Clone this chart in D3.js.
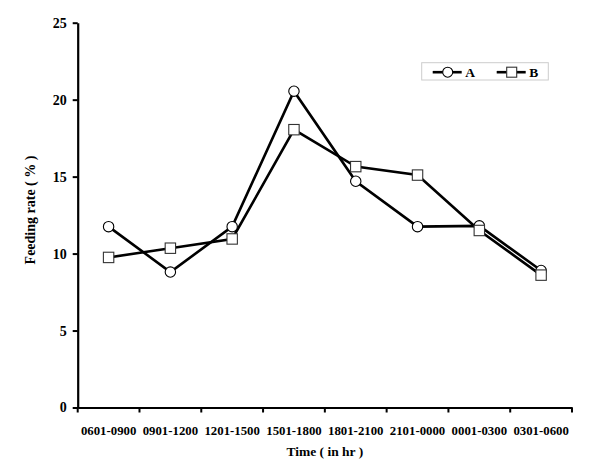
<!DOCTYPE html>
<html>
<head>
<meta charset="utf-8">
<script src="https://cdn.jsdelivr.net/npm/d3@7"></script>
<style>
  html, body { margin: 0; padding: 0; background: #fff; }
  svg { display: block; }
  text { font-family: "Liberation Serif", "DejaVu Serif", serif; font-weight: bold; fill: #000; }
</style>
</head>
<body>
<svg id="chart" width="600" height="471"></svg>
<script>
const categories = ["0601-0900", "0901-1200", "1201-1500", "1501-1800", "1801-2100", "2101-0000", "0001-0300", "0301-0600"];
const seriesA = [11.75, 8.8, 11.75, 20.55, 14.7, 11.75, 11.8, 8.9];
const seriesB = [9.75, 10.35, 10.95, 18.05, 15.65, 15.1, 11.5, 8.6];
const yTicks = [0, 5, 10, 15, 20, 25];
const seriesNames = ["A", "B"];

const svg = d3.select("#chart");
const mLeft = 77.7, mRight = 572, mTop = 22.7, mBottom = 407.5;

const x = d3.scaleBand().domain(categories).range([mLeft, mRight]).padding(0);
const y = d3.scaleLinear().domain([0, 25]).range([mBottom, mTop]);

// Y axis
const yAxis = svg.append("g").attr("transform", `translate(${mLeft},0)`)
  .call(d3.axisLeft(y).tickValues(yTicks).tickSize(5).tickSizeOuter(0).tickPadding(6));
yAxis.select(".domain").attr("stroke", "#000").attr("stroke-width", 2.2);
yAxis.selectAll(".tick line").attr("stroke", "#000").attr("stroke-width", 2);
yAxis.selectAll(".tick text").style("font-size", "14px").attr("font-family", null);

// X axis
const xAxis = svg.append("g").attr("transform", `translate(0,${mBottom})`)
  .call(d3.axisBottom(x).tickSize(0).tickPadding(18));
xAxis.select(".domain").attr("stroke", "#000").attr("stroke-width", 2.2);
xAxis.selectAll(".tick text").style("font-size", "12.8px").attr("font-family", null);
const boundaries = categories.map(c => x(c)).concat([x(categories[categories.length - 1]) + x.bandwidth()]);
xAxis.selectAll(".bt").data(boundaries).enter().append("line")
  .attr("x1", d => d).attr("x2", d => d).attr("y1", 0).attr("y2", 5)
  .attr("stroke", "#000").attr("stroke-width", 2);

// Axis titles
svg.append("text")
  .attr("transform", `translate(35,210) rotate(-90)`)
  .attr("text-anchor", "middle")
  .style("font-size", "14px")
  .text("Feeding rate ( % )");
svg.append("text")
  .attr("x", (mLeft + mRight) / 2)
  .attr("y", 456)
  .attr("text-anchor", "middle")
  .style("font-size", "13.5px")
  .text("Time ( in hr )");

const cx = c => x(c) + x.bandwidth() / 2;
const line = d3.line().x((d, i) => cx(categories[i])).y(d => y(d));

svg.append("path").datum(seriesA).attr("d", line).attr("fill", "none").attr("stroke", "#000").attr("stroke-width", 2.6);
svg.append("path").datum(seriesB).attr("d", line).attr("fill", "none").attr("stroke", "#000").attr("stroke-width", 2.6);

svg.selectAll(".ma").data(seriesA).enter().append("circle")
  .attr("cx", (d, i) => cx(categories[i])).attr("cy", d => y(d)).attr("r", 5.2)
  .attr("fill", "#fff").attr("stroke", "#000").attr("stroke-width", 1.1);
svg.selectAll(".mb").data(seriesB).enter().append("rect")
  .attr("x", (d, i) => cx(categories[i]) - 5.2).attr("y", d => y(d) - 5.2)
  .attr("width", 10.4).attr("height", 10.4)
  .attr("fill", "#fff").attr("stroke", "#333").attr("stroke-width", 1.1);

// Legend
const lg = svg.append("g");
lg.append("rect").attr("x", 421.7).attr("y", 62.7).attr("width", 126.6).attr("height", 17.3)
  .attr("fill", "#fff").attr("stroke", "#ccc").attr("stroke-width", 1);
const legendItems = seriesNames.map((n, i) => ({ name: n, x0: 432.7 + i * 64 }));
legendItems.forEach((it, i) => {
  lg.append("line").attr("x1", it.x0).attr("x2", it.x0 + 29).attr("y1", 72.2).attr("y2", 72.2)
    .attr("stroke", "#000").attr("stroke-width", 2.6);
  if (i === 0) {
    lg.append("circle").attr("cx", it.x0 + 15).attr("cy", 72.2).attr("r", 5)
      .attr("fill", "#fff").attr("stroke", "#000").attr("stroke-width", 1.1);
  } else {
    lg.append("rect").attr("x", it.x0 + 15 - 5).attr("y", 72.2 - 5).attr("width", 10).attr("height", 10)
      .attr("fill", "#fff").attr("stroke", "#333").attr("stroke-width", 1.1);
  }
  lg.append("text").attr("x", it.x0 + 32.5).attr("y", 77).style("font-size", "13.5px").text(it.name);
});
</script>
</body>
</html>
